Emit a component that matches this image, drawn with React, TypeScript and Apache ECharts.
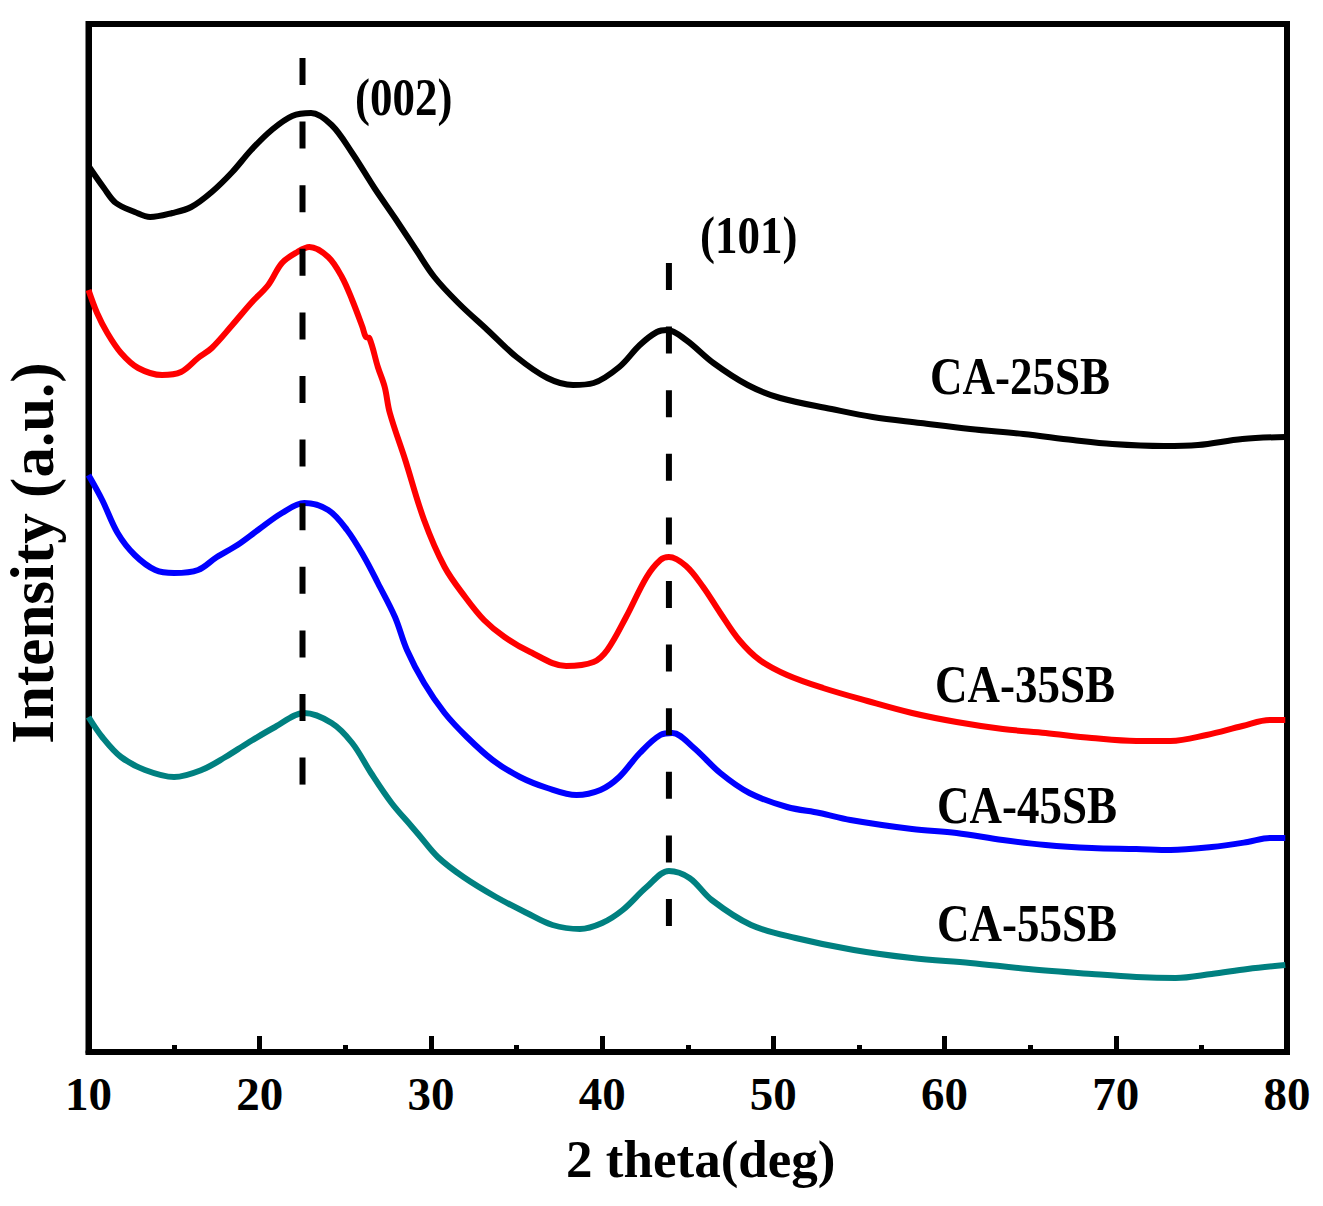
import React, { useEffect, useRef } from "react";
import * as echarts from "echarts";

// 2 theta (deg) positions and intensities (a.u.)
const x25 = [10.0, 10.9, 11.6, 12.7, 13.6, 14.9, 16.0, 17.2, 18.4, 19.5, 20.7, 21.9, 23.0, 24.2, 25.4, 26.7, 27.9, 29.1, 30.2, 31.6, 33.3, 35.0, 36.8, 38.3, 39.5, 41.0, 42.2, 43.2, 43.8, 44.9, 46.5, 48.5, 50.4, 53.4, 55.8, 58.6, 61.5, 64.6, 67.5, 69.8, 72.8, 74.8, 77.4, 79.9];
const y25 = [886, 864, 849, 840, 835, 839, 845, 860, 880, 902, 922, 936, 939, 927, 899, 864, 834, 803, 775, 749, 722, 695, 674, 667, 669, 685, 707, 720, 722, 712, 689, 667, 654, 643, 635, 629, 623, 618, 612, 608, 606, 607, 613, 615];

const x35 = [10.0, 10.5, 11.1, 11.9, 12.9, 14.3, 15.4, 16.4, 17.2, 18.4, 19.5, 20.5, 21.3, 22.2, 22.9, 24.0, 24.8, 25.4, 26.0, 26.2, 26.4, 26.9, 27.3, 27.6, 28.5, 29.6, 30.8, 32.0, 33.1, 34.3, 35.8, 37.9, 39.5, 40.3, 41.4, 42.6, 43.4, 43.9, 44.9, 45.9, 46.9, 48.0, 49.2, 50.8, 52.9, 55.5, 58.1, 60.7, 63.4, 65.9, 68.6, 71.2, 73.2, 75.3, 77.4, 79.0, 79.9];
const y35 = [762, 739, 719, 699, 684, 677, 680, 694, 704, 727, 749, 767, 789, 800, 805, 795, 775, 752, 725, 715, 714, 685, 665, 639, 592, 532, 485, 455, 432, 415, 400, 386, 390, 402, 435, 475, 492, 495, 486, 465, 439, 412, 392, 377, 364, 351, 339, 330, 323, 319, 314, 311, 311, 317, 326, 332, 332];

const x45 = [10.0, 10.8, 11.7, 12.7, 13.9, 15.0, 16.4, 17.5, 18.7, 19.9, 21.3, 22.6, 24.0, 25.1, 26.1, 26.9, 27.9, 28.6, 29.6, 30.8, 32.1, 33.6, 35.2, 36.8, 38.5, 39.9, 41.0, 42.2, 43.4, 44.1, 45.3, 46.9, 48.6, 50.8, 52.7, 54.5, 58.1, 60.7, 63.4, 65.9, 68.6, 71.2, 73.2, 75.6, 77.7, 79.0, 79.9];
const y45 = [577, 552, 519, 497, 482, 479, 482, 495, 507, 522, 539, 549, 542, 522, 495, 469, 435, 402, 369, 339, 315, 292, 275, 264, 257, 262, 275, 299, 317, 319, 305, 279, 259, 245, 239, 232, 223, 219, 212, 207, 204, 203, 202, 205, 210, 214, 214];

const x55 = [10.0, 10.8, 11.9, 13.3, 15.0, 16.6, 18.0, 19.3, 20.9, 22.6, 24.2, 25.4, 26.5, 27.7, 28.9, 29.3, 30.4, 31.9, 33.8, 35.6, 37.1, 38.7, 40.0, 41.2, 42.6, 43.9, 45.1, 46.4, 48.7, 51.3, 54.7, 58.1, 61.5, 64.9, 68.6, 71.2, 73.5, 75.6, 77.7, 79.9];
const y55 = [335, 315, 295, 282, 275, 282, 295, 309, 325, 339, 329, 309, 279, 249, 225, 217, 195, 175, 155, 139, 127, 123, 129, 142, 165, 181, 174, 152, 127, 114, 102, 94, 89, 83, 78, 75, 74, 78, 83, 87];

const seriesNames = ["CA-25SB", "CA-35SB", "CA-45SB", "CA-55SB"];
const seriesColors = ["#000000", "#ff0000", "#0000ff", "#008080"];

// reference peak positions (deg) and extents of the dashed guides
const peakPositions = [22.5, 43.9];
const peakTops = [994, 789];
const peakBottoms = [267, 125];
const peakLabels = ["(002)", "(101)"];

const xTicks = { min: 10, max: 80, interval: 10 };

const FONT = "'Liberation Serif', 'Times New Roman', serif";

function zip(xs: number[], ys: number[]) {
  return xs.map((x, i) => [x, ys[i]]);
}

export default function App() {
  const ref = useRef<HTMLDivElement>(null);
  useEffect(() => {
    if (!ref.current) return;
    const chart = echarts.init(ref.current, undefined, { renderer: "svg" });
    const data = [zip(x25, y25), zip(x35, y35), zip(x45, y45), zip(x55, y55)];
    const textStyle = (t: string, x: number, y: number) => ({
      type: "text",
      x,
      y,
      scaleY: 1.15,
      z: 100,
      style: {
        text: t,
        fontFamily: FONT,
        fontWeight: "bold",
        fontSize: 45,
        fill: "#000",
        textVerticalAlign: "middle",
        verticalAlign: "middle",
        textAlign: "left",
        align: "left",
      },
    });
    chart.setOption({
      animation: false,
      backgroundColor: "#ffffff",
      grid: {
        left: 88.5,
        right: 36,
        top: 24,
        bottom: 154,
        show: true,
        borderColor: "#000",
        borderWidth: 6,
        containLabel: false,
        outerBoundsMode: "none",
      },
      xAxis: {
        type: "value",
        min: xTicks.min,
        max: xTicks.max,
        interval: xTicks.interval,
        name: "2 theta(deg)",
        nameLocation: "middle",
        nameGap: 80,
        nameTextStyle: { fontFamily: FONT, fontWeight: "bold", fontSize: 53, color: "#000", padding: [0, 0, 0, 26] },
        axisLine: { show: true, lineStyle: { color: "#000", width: 6 } },
        axisTick: { show: true, inside: true, length: 16, lineStyle: { color: "#000", width: 5 } },
        minorTick: { show: true, splitNumber: 2, length: 7, lineStyle: { color: "#000", width: 5 } },
        axisLabel: { fontFamily: FONT, fontWeight: "bold", fontSize: 47, color: "#000", margin: 18 },
        splitLine: { show: false },
        minorSplitLine: { show: false },
      },
      yAxis: {
        type: "value",
        min: 0,
        max: 1028,
        name: "Intensity (a.u.)",
        nameLocation: "middle",
        nameRotate: 90,
        nameGap: 26,
        nameTextStyle: { fontFamily: FONT, fontWeight: "bold", fontSize: 61, color: "#000", padding: [0, 30, 0, 0] },
        axisLine: { show: true, lineStyle: { color: "#000", width: 6 } },
        axisTick: { show: false },
        axisLabel: { show: false },
        splitLine: { show: false },
      },
      series: [
        ...data.map((d, i) => ({
          name: seriesNames[i],
          type: "line",
          data: d,
          showSymbol: false,
          smooth: 0.35,
          lineStyle: { color: seriesColors[i], width: 6 },
          z: 2,
        })),
        ...peakPositions.map((p, i) => ({
          name: peakLabels[i],
          type: "line",
          data: [
            [p, peakTops[i]],
            [p, peakBottoms[i]],
          ],
          showSymbol: false,
          lineStyle: { color: "#000", width: 6, type: [27, 36.6], cap: "butt" },
          z: 5,
        })),
      ],
      graphic: [
        textStyle(peakLabels[0], 355, 97),
        textStyle(peakLabels[1], 700, 235),
        textStyle(seriesNames[0], 930, 376),
        textStyle(seriesNames[1], 935, 684),
        textStyle(seriesNames[2], 937, 805),
        textStyle(seriesNames[3], 937, 923),
      ],
    });
    return () => chart.dispose();
  }, []);
  return (
    <div
      ref={ref}
      style={{ position: "absolute", left: 0, top: 0, width: 1323, height: 1206, background: "#fff" }}
    />
  );
}
